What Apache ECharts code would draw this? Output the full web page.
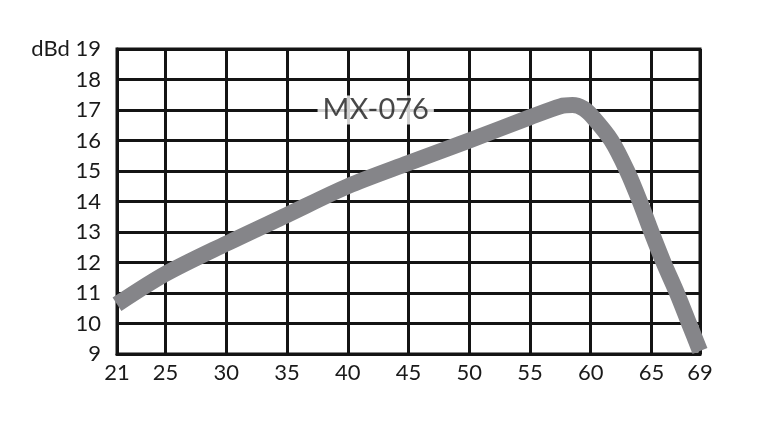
<!DOCTYPE html>
<html>
<head>
<meta charset="utf-8">
<script src="https://cdn.jsdelivr.net/npm/echarts@6/dist/echarts.min.js"></script>
<style>html,body{margin:0;padding:0;background:#fff;}#c{width:768px;height:422px;}</style>
</head>
<body>
<div id="c"></div>
<script>
var freq = [21, 25, 30, 35, 40, 45, 50, 55, 57.5, 58.5, 59.4, 60.1, 61.7, 63.0, 64.05, 65, 66, 67.1, 68.1, 69];
var gain = [10.63, 11.63, 12.62, 13.56, 14.5, 15.26, 16.0, 16.76, 17.12, 17.16, 17.05, 16.8, 16.0, 15.0, 14.0, 13.0, 12.0, 11.0, 10.0, 9.1];
var xTicks = [21, 25, 30, 35, 40, 45, 50, 55, 60, 65, 69];
var yUnit = 'dBd';
var modelName = 'MX-076';
var modelLabelPos = [42.3, 17];

var chart = echarts.init(document.getElementById('c'));
var data = freq.map(function (f, i) { return [f, gain[i]]; });
var font = 'Lato, "Noto Sans", sans-serif';
chart.setOption({
  animation: false,
  backgroundColor: '#ffffff',
  grid: { left: 117, right: 68, top: 49, bottom: 68, show: true, borderColor: '#141414', borderWidth: 3 },
  xAxis: {
    type: 'value', min: 21, max: 69,
    axisLine: { show: true, lineStyle: { color: '#141414', width: 3 } },
    axisTick: { show: false, customValues: xTicks },
    axisLabel: { customValues: xTicks, color: '#1a1a1a', fontSize: 22, fontFamily: font, margin: 8 },
    splitLine: { show: true, lineStyle: { color: '#141414', width: 3 } }
  },
  yAxis: {
    type: 'value', min: 9, max: 19, interval: 1,
    axisLine: { show: true, lineStyle: { color: '#141414', width: 3 } },
    axisTick: { show: false },
    axisLabel: {
      color: '#1a1a1a', fontSize: 22, fontFamily: font, margin: 16,
      formatter: function (v) { return v === 19 ? yUnit + ' ' + v : String(v); }
    },
    splitLine: { show: true, lineStyle: { color: '#141414', width: 3 } }
  },
  series: [
    {
      type: 'line', data: data, smooth: 0.3, symbol: 'none', clip: true, z: 3,
      lineStyle: { color: '#858589', width: 16, cap: 'butt', join: 'round' }
    },
    {
      type: 'scatter', data: [modelLabelPos], symbolSize: 0, z: 4, silent: true,
      label: {
        show: true, position: 'inside', formatter: modelName,
        color: '#1a1a1a', fontSize: 29, fontFamily: font,
        backgroundColor: '#ffffff', padding: [0, 5, 0, 5]
      }
    }
  ]
});
</script>
</body>
</html>
